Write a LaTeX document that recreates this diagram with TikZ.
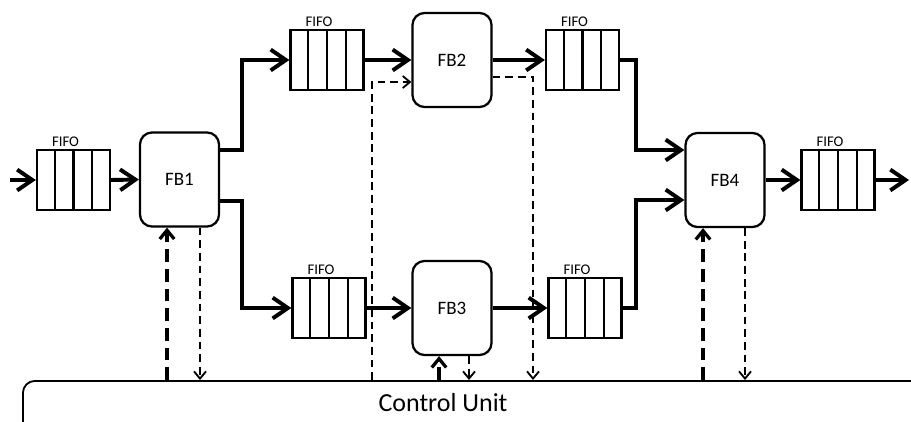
\documentclass[tikz,border=0pt]{standalone}
\usepackage{fontspec}
\setmainfont{Carlito}
\usetikzlibrary{arrows.meta}
\usetikzlibrary{calc}

\begin{document}
\begin{tikzpicture}[x=0.025cm,y=-0.025cm,
	fifo/.style={draw,line width=1.6pt,minimum width=1.825cm,minimum height=1.5cm,inner sep=0pt,
		label={[font=\fontsize{10.5}{12}\selectfont,xshift=-0.2cm,inner sep=1.5pt]above:FIFO}},
	fb/.style={draw,line width=1.6pt,rounded corners=0.3cm,minimum width=1.975cm,minimum height=2.35cm,
		inner sep=0pt,font=\fontsize{13.5}{15}\selectfont},
	flow/.style={line width=2.8pt,-{Straight Barb[length=3.8mm,width=5.2mm]}},
	ctlup/.style={line width=2.3pt,dash pattern=on 9pt off 5pt,-{Straight Barb[length=2.2mm,width=3.6mm]}},
	ctldown/.style={line width=1.3pt,dash pattern=on 5.5pt off 3.5pt,-{Straight Barb[length=1.8mm,width=3mm]}}]
	\useasboundingbox (0,0) rectangle (911,421);
	\clip (0,0) rectangle (911,421);

	\node[fifo] (fifoIn) at (73.5,180) {};
	\node[fb] (fb1) at (179.5,179.5) {FB1};
	\node[fifo] (fifoA) at (327,60) {};
	\node[fb] (fb2) at (452,60) {FB2};
	\node[fifo] (fifoB) at (582.5,60) {};
	\node[fifo] (fifoC) at (329,308) {};
	\node[fb] (fb3) at (452,308) {FB3};
	\node[fifo] (fifoD) at (585,308) {};
	\node[fb] (fb4) at (725,180) {FB4};
	\node[fifo] (fifoOut) at (838,180) {};
	\node[draw,line width=1.3pt,rounded corners=0.3cm,minimum width=25cm,minimum height=2.5cm,anchor=north west] (cu) at (22,380) {};
	\node[font=\fontsize{18.5}{22}\selectfont] (culab) at (443,403) {Control Unit};
	\coordinate (in) at (10,180);
	\coordinate (out) at (909,180);

	\foreach \q in {fifoIn,fifoA,fifoB,fifoC,fifoD,fifoOut} {
		\foreach \i in {1,2,3} {
			\draw[line width=1.6pt] ($(\q.north west)!\i/4!(\q.north east)$) -- ($(\q.south west)!\i/4!(\q.south east)$);
		}
	}

	\draw[flow] (in) -- (fifoIn.west);
	\draw[flow] (fifoIn.east) -- (fb1.west);
	\draw[flow] (fb1.east |- 0,150) -| (242,60) -- (fifoA.west);
	\draw[flow] (fb1.east |- 0,201) -| (242,308) -- (fifoC.west);
	\draw[flow] (fifoA.east) -- (fb2.west);
	\draw[flow] (fb2.east) -- (fifoB.west);
	\draw[flow] (fifoC.east) -- (fb3.west);
	\draw[flow] (fb3.east) -- (fifoD.west);
	\draw[flow] (fifoB.east) -| (636,150) -- (fb4.west |- 0,150);
	\draw[flow] (fifoD.east) -| (636,200) -- (fb4.west |- 0,200);
	\draw[flow] (fb4.east) -- (fifoOut.west);
	\draw[flow] (fifoOut.east) -- (out);

	\foreach \blk/\up/\down in {fb1/167/200, fb3/439/469, fb4/703/745} {
		\draw[ctlup] (cu.north -| \up,0) -- (\blk.south -| \up,0);
		\draw[ctldown] (\blk.south -| \down,0) -- (cu.north -| \down,0);
	}
	\draw[ctldown] (cu.north -| 372,0) |- (fb2.west |- 0,82);
	\draw[ctldown] (fb2.east |- 0,77) -| (cu.north -| 533,0);
\end{tikzpicture}
\end{document}
